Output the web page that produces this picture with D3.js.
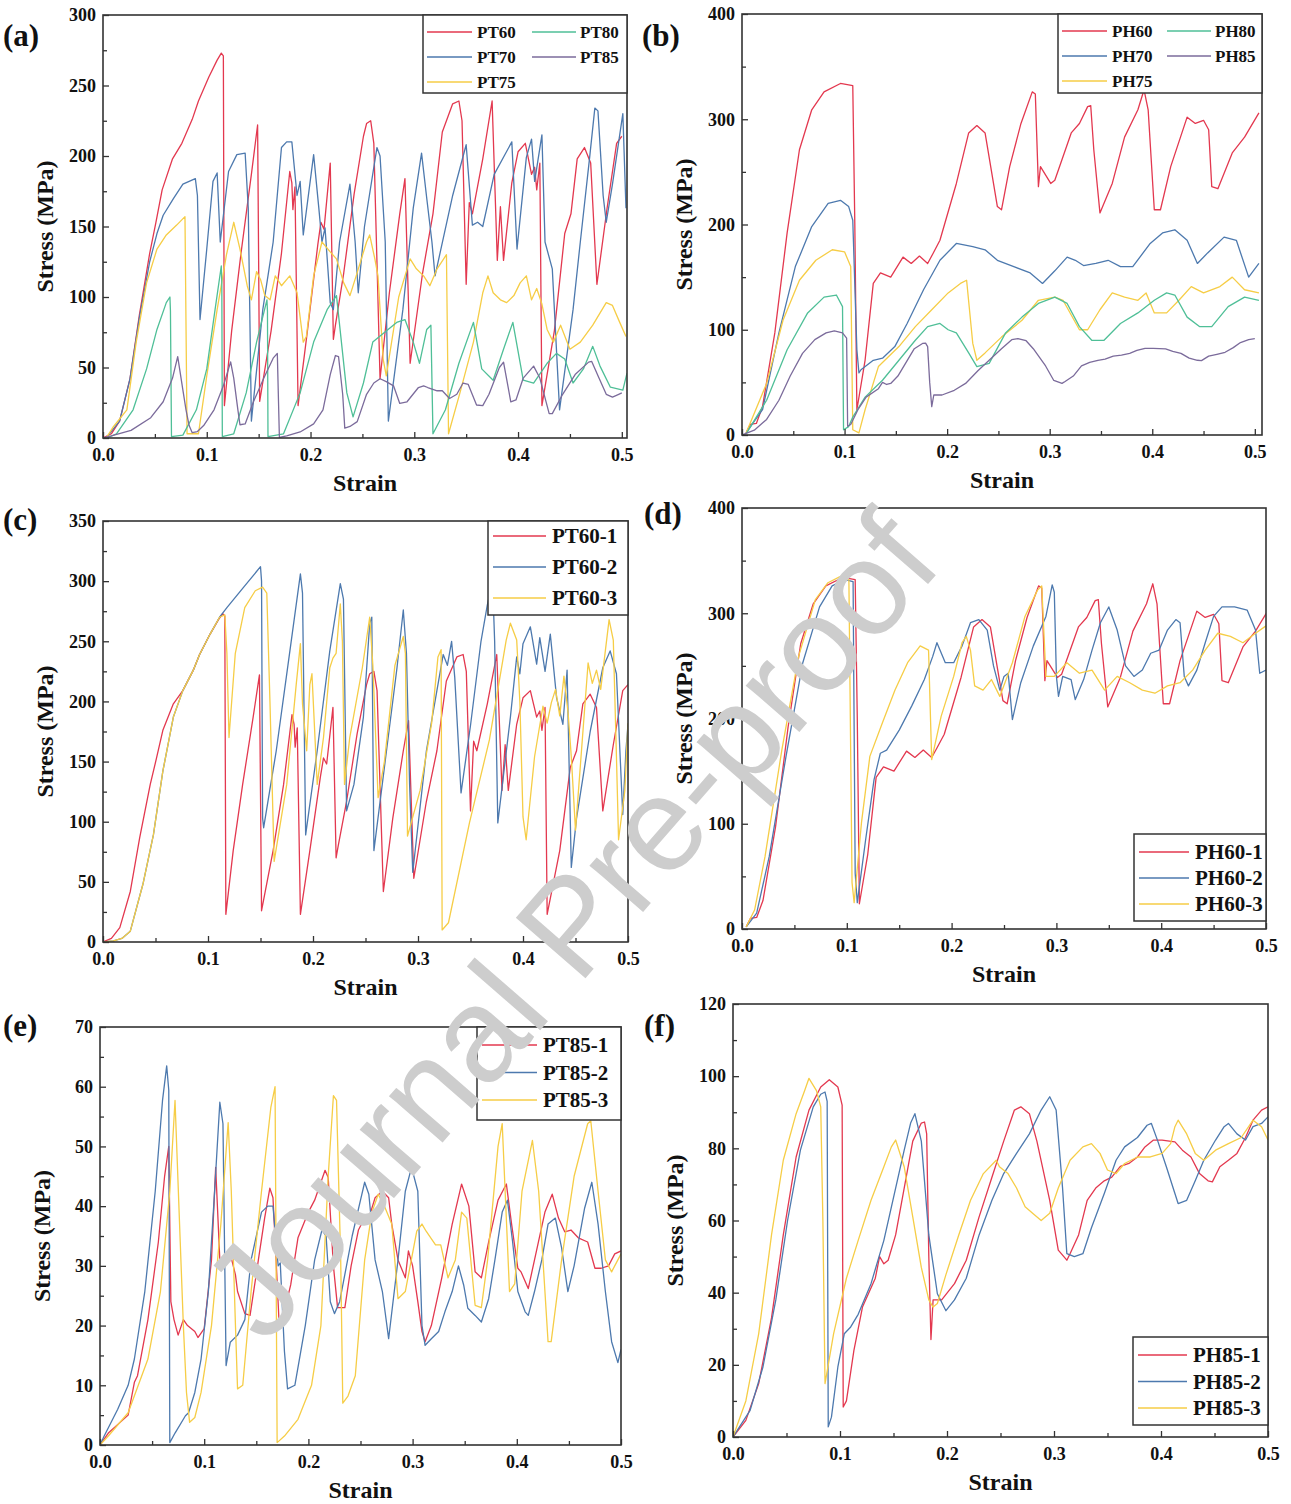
<!DOCTYPE html>
<html>
<head>
<meta charset="utf-8">
<script src="https://cdn.jsdelivr.net/npm/d3@7"></script>
<style>
  body { margin: 0; background: #fff; }
  svg text { font-family: "Liberation Serif", "Times New Roman", serif; font-weight: bold; fill: #111; }
  svg text.wm { font-family: "Liberation Sans", Arial, sans-serif; font-weight: normal; fill: #cdcdcd; }
</style>
</head>
<body>
<svg id="fig" width="1291" height="1504"></svg>
<script>
// ---- data: [strain, stress (MPa)] ----

// (a) and (c): PT60 == PT60-1
const PT60 = [[0,0],[0.008,3],[0.016,12],[0.026,42],[0.035,87],[0.045,131],[0.051,153],[0.057,176],[0.067,198],[0.076,209],[0.086,226],[0.092,239],[0.102,256],[0.110,268],[0.114,273],[0.116,271],[0.117,23],[0.124,76],[0.133,131],[0.143,187],[0.149,222],[0.151,26],[0.162,76],[0.172,131],[0.180,189],[0.182,181],[0.183,162],[0.185,178],[0.188,23],[0.197,76],[0.207,137],[0.210,153],[0.213,148],[0.219,195],[0.222,70],[0.224,80],[0.232,117],[0.242,173],[0.251,214],[0.254,223],[0.258,225],[0.261,209],[0.267,42],[0.276,103],[0.286,159],[0.291,184],[0.294,106],[0.296,53],[0.308,117],[0.318,159],[0.327,217],[0.337,237],[0.343,239],[0.346,225],[0.350,109],[0.353,167],[0.356,159],[0.366,198],[0.375,239],[0.380,126],[0.383,164],[0.386,126],[0.394,181],[0.400,203],[0.407,209],[0.410,198],[0.413,187],[0.416,192],[0.418,176],[0.421,195],[0.423,23],[0.435,76],[0.445,145],[0.451,159],[0.457,198],[0.464,206],[0.470,195],[0.476,109],[0.486,164],[0.495,209],[0.5,214]];
const PT70 = [[0.004,1],[0.016,12],[0.026,42],[0.035,85],[0.045,125],[0.052,145],[0.058,158],[0.068,170],[0.077,180],[0.089,184],[0.091,172],[0.0935,84],[0.100,134],[0.106,182],[0.110,188],[0.113,139],[0.121,189],[0.129,201],[0.137,202],[0.140,163],[0.143,12],[0.154,91],[0.164,139],[0.172,206],[0.177,210],[0.182,210],[0.187,172],[0.190,182],[0.193,144],[0.203,201],[0.208,163],[0.211,139],[0.214,149],[0.219,96],[0.222,91],[0.228,139],[0.238,180],[0.243,139],[0.246,103],[0.252,150],[0.264,206],[0.267,200],[0.272,139],[0.275,12],[0.289,91],[0.299,163],[0.307,202],[0.312,170],[0.317,139],[0.320,115],[0.337,172],[0.350,208],[0.356,151],[0.361,153],[0.366,150],[0.377,187],[0.394,210],[0.399,134],[0.408,199],[0.413,212],[0.416,182],[0.423,215],[0.426,139],[0.433,120],[0.440,20],[0.453,91],[0.460,139],[0.469,199],[0.474,234],[0.477,232],[0.482,172],[0.485,153],[0.491,180],[0.501,230],[0.504,163]];
const PT75 = [[0.004,1],[0.010,8],[0.023,20],[0.032,68],[0.042,110],[0.052,134],[0.061,144],[0.071,151],[0.079,157],[0.081,3],[0.092,3],[0.100,44],[0.110,91],[0.119,130],[0.126,153],[0.132,134],[0.139,108],[0.143,98],[0.148,118],[0.152,112],[0.156,101],[0.161,98],[0.166,115],[0.172,108],[0.180,115],[0.187,103],[0.193,68],[0.196,72],[0.203,115],[0.211,139],[0.219,132],[0.225,127],[0.232,110],[0.238,101],[0.244,115],[0.254,139],[0.257,144],[0.262,127],[0.265,115],[0.270,56],[0.273,44],[0.285,100],[0.296,127],[0.302,120],[0.309,115],[0.315,108],[0.322,120],[0.331,130],[0.333,3],[0.344,32],[0.357,68],[0.366,103],[0.371,115],[0.376,103],[0.383,98],[0.389,96],[0.396,101],[0.402,110],[0.408,115],[0.413,98],[0.418,106],[0.423,95],[0.428,77],[0.434,68],[0.441,80],[0.450,63],[0.460,68],[0.472,80],[0.485,96],[0.491,94],[0.498,82],[0.504,72]];
const PT80 = [[0.004,0],[0.013,3],[0.029,20],[0.042,49],[0.052,77],[0.061,96],[0.0645,100],[0.065,90],[0.066,1],[0.077,2],[0.090,20],[0.100,49],[0.108,91],[0.114,122],[0.1145,110],[0.115,1],[0.126,3],[0.138,32],[0.148,68],[0.158,98],[0.1585,90],[0.159,1],[0.174,3],[0.190,32],[0.203,68],[0.216,91],[0.225,101],[0.235,32],[0.241,15],[0.251,39],[0.260,68],[0.283,82],[0.291,84],[0.299,68],[0.305,53],[0.312,77],[0.316,80],[0.318,3],[0.330,20],[0.343,53],[0.357,82],[0.365,49],[0.376,41],[0.386,63],[0.395,82],[0.405,41],[0.415,39],[0.428,53],[0.437,60],[0.445,56],[0.453,39],[0.463,49],[0.472,65],[0.479,51],[0.489,36],[0.501,34],[0.505,46]];
// (a) and (e): PT85 == PT85-3
const PT85 = [[0,0],[0.008,1.5],[0.027,5.4],[0.046,14.4],[0.058,25.7],[0.067,42.5],[0.072,57.7],[0.077,34],[0.080,20],[0.083,8.8],[0.086,3.8],[0.091,4.6],[0.097,8.8],[0.107,20],[0.116,37],[0.123,54],[0.126,42.5],[0.130,20],[0.132,9.4],[0.137,10],[0.145,25.7],[0.155,42.5],[0.164,56.6],[0.168,60],[0.170,0.4],[0.177,1.5],[0.190,4.3],[0.203,10],[0.212,20],[0.219,45],[0.224,58.5],[0.227,57.7],[0.231,31],[0.233,7],[0.238,8.2],[0.245,11.6],[0.254,31],[0.261,39],[0.267,42],[0.273,40],[0.280,37],[0.286,24.5],[0.293,25.7],[0.304,35.8],[0.309,37],[0.313,35.8],[0.322,33.5],[0.327,33.5],[0.334,28],[0.341,31],[0.347,39],[0.352,38],[0.360,23.4],[0.366,23],[0.372,31],[0.382,50],[0.386,53.8],[0.393,25.7],[0.398,27],[0.405,42.5],[0.415,51],[0.421,42.5],[0.430,17.3],[0.433,17.3],[0.443,31],[0.455,45],[0.468,53.8],[0.471,54.3],[0.478,42.5],[0.485,31],[0.491,29],[0.497,31],[0.5,32]];

// (b) and (d): PH60 == PH60-1
const PH60 = [[0.004,2],[0.008,10],[0.014,11],[0.020,27],[0.032,97],[0.044,192],[0.056,271],[0.068,309],[0.080,326],[0.096,334],[0.108,332],[0.110,200],[0.112,24],[0.120,71],[0.128,144],[0.135,154],[0.145,150],[0.157,169],[0.165,163],[0.173,170],[0.181,163],[0.186,172],[0.193,185],[0.209,239],[0.221,287],[0.229,294],[0.237,287],[0.249,217],[0.253,214],[0.261,255],[0.272,296],[0.283,326],[0.286,324],[0.289,236],[0.291,255],[0.301,239],[0.305,242],[0.321,287],[0.329,296],[0.337,312],[0.340,313],[0.343,271],[0.349,211],[0.361,239],[0.373,283],[0.386,309],[0.392,328],[0.396,309],[0.402,214],[0.408,214],[0.418,255],[0.434,302],[0.442,296],[0.450,299],[0.455,290],[0.458,236],[0.464,234],[0.478,268],[0.490,283],[0.504,306]];
const PH70 = [[0.004,2],[0.020,24],[0.036,97],[0.052,160],[0.068,198],[0.084,220],[0.096,223],[0.104,217],[0.108,204],[0.112,81],[0.114,59],[0.116,62],[0.128,71],[0.137,73],[0.149,84],[0.161,106],[0.177,138],[0.193,166],[0.209,182],[0.225,179],[0.237,176],[0.249,166],[0.265,160],[0.281,154],[0.293,144],[0.305,156],[0.317,169],[0.325,166],[0.333,161],[0.345,163],[0.357,166],[0.369,160],[0.381,160],[0.398,182],[0.410,192],[0.422,195],[0.434,185],[0.444,163],[0.454,173],[0.470,188],[0.482,185],[0.494,150],[0.504,163]];
const PH75 = [[0.004,2],[0.024,49],[0.040,109],[0.056,147],[0.072,166],[0.088,176],[0.100,174],[0.106,160],[0.108,5],[0.114,2],[0.120,24],[0.133,65],[0.153,84],[0.169,103],[0.185,119],[0.201,135],[0.213,144],[0.219,147],[0.225,87],[0.229,71],[0.237,78],[0.253,93],[0.273,109],[0.289,128],[0.305,131],[0.313,128],[0.329,100],[0.337,100],[0.349,119],[0.361,135],[0.373,131],[0.386,128],[0.394,135],[0.402,116],[0.414,116],[0.426,128],[0.438,141],[0.450,135],[0.466,141],[0.478,150],[0.490,138],[0.504,135]];
const PH80 = [[0.004,1],[0.024,33],[0.044,81],[0.064,116],[0.080,131],[0.092,133],[0.098,122],[0.099,5],[0.104,8],[0.108,17],[0.120,36],[0.137,52],[0.153,71],[0.169,90],[0.181,103],[0.193,106],[0.201,100],[0.209,97],[0.221,78],[0.229,65],[0.241,68],[0.257,97],[0.273,112],[0.289,125],[0.305,131],[0.317,125],[0.329,103],[0.341,90],[0.353,90],[0.369,106],[0.386,116],[0.402,128],[0.414,135],[0.422,133],[0.434,112],[0.446,103],[0.458,103],[0.474,122],[0.490,131],[0.504,128]];
// (b) and (f): PH85 == PH85-1
const PH85 = [[0,0],[0.012,4.6],[0.024,14.8],[0.036,33],[0.047,56],[0.059,77.6],[0.071,90.6],[0.082,97],[0.090,99],[0.098,97],[0.102,92],[0.103,8.3],[0.106,10],[0.113,24],[0.121,36],[0.133,44],[0.137,50],[0.141,48],[0.145,49],[0.152,56],[0.160,69],[0.168,82],[0.176,87],[0.179,87.3],[0.181,84],[0.183,50],[0.185,27],[0.187,38],[0.195,38],[0.207,42.5],[0.218,49],[0.230,61],[0.242,72],[0.253,82],[0.263,90.6],[0.269,91.5],[0.277,89.6],[0.284,82],[0.296,65.6],[0.304,51.8],[0.312,49],[0.315,50.8],[0.323,56],[0.331,65.6],[0.339,69],[0.347,71],[0.354,72],[0.362,75],[0.370,75.8],[0.378,77.6],[0.385,80.4],[0.393,82.3],[0.401,82.3],[0.413,81.8],[0.420,79.5],[0.428,77.6],[0.436,73],[0.444,71],[0.448,70.7],[0.455,74.9],[0.463,76.7],[0.471,78.6],[0.479,83],[0.486,87.8],[0.494,90.6],[0.5,91.5]];

const PT60_2 = [[0,0],[0.010,1],[0.018,3],[0.026,9],[0.038,48],[0.048,89],[0.057,142],[0.067,187],[0.076,209],[0.086,226],[0.092,239],[0.102,256],[0.111,270],[0.118,278],[0.134,295],[0.150,312],[0.151,300],[0.152,103],[0.153,95],[0.165,159],[0.178,242],[0.188,306],[0.190,290],[0.193,89],[0.204,159],[0.216,242],[0.226,298],[0.229,285],[0.232,109],[0.239,131],[0.248,187],[0.254,265],[0.256,270],[0.258,76],[0.270,159],[0.280,228],[0.286,276],[0.289,240],[0.292,131],[0.295,58],[0.308,159],[0.318,209],[0.324,239],[0.328,230],[0.332,250],[0.335,220],[0.341,124],[0.350,180],[0.360,250],[0.366,280],[0.371,300],[0.373,250],[0.376,99],[0.388,187],[0.394,237],[0.397,223],[0.400,248],[0.407,262],[0.413,231],[0.416,253],[0.421,225],[0.426,256],[0.432,203],[0.438,181],[0.442,226],[0.446,62],[0.451,103],[0.464,175],[0.476,228],[0.483,242],[0.489,223],[0.495,106],[0.498,159],[0.5,181]];
const PT60_3 = [[0,0],[0.010,1],[0.018,3],[0.026,9],[0.038,48],[0.048,89],[0.057,142],[0.067,187],[0.076,209],[0.086,226],[0.092,239],[0.102,256],[0.111,270],[0.116,272],[0.118,240],[0.120,170],[0.126,240],[0.135,278],[0.145,292],[0.152,295],[0.156,290],[0.159,200],[0.163,67],[0.175,131],[0.184,214],[0.188,248],[0.190,198],[0.194,159],[0.197,214],[0.199,223],[0.204,131],[0.210,170],[0.216,228],[0.219,236],[0.222,240],[0.226,281],[0.228,250],[0.230,131],[0.235,170],[0.247,228],[0.254,270],[0.257,230],[0.262,120],[0.268,150],[0.278,230],[0.286,254],[0.288,240],[0.290,88],[0.302,126],[0.313,182],[0.319,237],[0.322,243],[0.323,10],[0.329,16],[0.349,99],[0.368,168],[0.384,251],[0.388,265],[0.394,251],[0.397,200],[0.400,104],[0.403,85],[0.411,154],[0.419,196],[0.423,182],[0.427,199],[0.431,210],[0.435,188],[0.439,221],[0.443,190],[0.446,154],[0.450,93],[0.462,232],[0.466,215],[0.470,226],[0.474,210],[0.482,268],[0.486,251],[0.489,154],[0.491,85],[0.497,126],[0.5,182]];

const PH60_2 = [[0.004,2],[0.014,15],[0.026,69],[0.042,164],[0.058,253],[0.074,306],[0.086,326],[0.098,332],[0.106,330],[0.108,53],[0.110,25],[0.118,85],[0.126,142],[0.132,167],[0.138,170],[0.150,189],[0.162,212],[0.174,237],[0.182,259],[0.186,272],[0.194,253],[0.202,253],[0.210,269],[0.218,291],[0.226,294],[0.234,284],[0.240,250],[0.246,227],[0.250,240],[0.254,243],[0.258,199],[0.266,234],[0.278,269],[0.290,297],[0.296,327],[0.298,320],[0.300,240],[0.302,221],[0.306,240],[0.314,237],[0.318,218],[0.326,237],[0.334,265],[0.342,291],[0.350,306],[0.358,284],[0.366,250],[0.374,240],[0.382,246],[0.390,262],[0.398,265],[0.406,284],[0.414,294],[0.418,291],[0.422,240],[0.426,231],[0.434,246],[0.442,272],[0.450,297],[0.458,306],[0.470,306],[0.482,303],[0.490,284],[0.494,243],[0.5,246]];
const PH60_3 = [[0.004,2],[0.012,18],[0.022,69],[0.038,170],[0.054,259],[0.070,313],[0.082,329],[0.094,335],[0.102,332],[0.105,44],[0.107,25],[0.114,101],[0.122,164],[0.134,196],[0.146,227],[0.158,253],[0.170,269],[0.178,265],[0.181,161],[0.190,202],[0.202,240],[0.210,272],[0.214,278],[0.218,265],[0.222,231],[0.230,227],[0.238,237],[0.246,221],[0.258,253],[0.270,297],[0.282,322],[0.286,326],[0.290,240],[0.298,240],[0.310,253],[0.322,243],[0.334,246],[0.346,227],[0.358,240],[0.370,234],[0.382,227],[0.394,224],[0.406,231],[0.418,234],[0.430,246],[0.442,265],[0.454,281],[0.466,278],[0.478,272],[0.490,281],[0.5,288]];

const PT85_1 = [[0,0],[0.008,2],[0.027,5],[0.033,10.5],[0.036,11.6],[0.046,21],[0.056,34],[0.062,45],[0.066,50],[0.068,24],[0.071,21],[0.075,18.4],[0.080,21],[0.084,20],[0.091,19],[0.094,18],[0.100,19.5],[0.107,31],[0.111,46.5],[0.115,31],[0.118,30],[0.125,32],[0.130,28.5],[0.132,25.7],[0.139,22],[0.144,21.7],[0.152,31],[0.158,38],[0.163,43],[0.166,41.4],[0.169,31],[0.172,20],[0.175,21],[0.183,26.8],[0.190,34.7],[0.200,39],[0.206,41],[0.216,46],[0.219,44.8],[0.224,30],[0.228,23],[0.235,23],[0.241,30],[0.248,36],[0.251,37],[0.258,38],[0.264,41.4],[0.271,42.5],[0.277,41.4],[0.280,37],[0.286,31],[0.293,28],[0.296,32.5],[0.300,30],[0.305,24],[0.309,19],[0.312,17.3],[0.318,20],[0.328,28],[0.338,37],[0.347,43.7],[0.354,40],[0.360,29],[0.366,28],[0.373,34],[0.382,41],[0.390,43.7],[0.395,37],[0.401,29.6],[0.404,29],[0.411,26.2],[0.417,31],[0.427,39],[0.434,42],[0.440,38],[0.446,35.7],[0.452,36],[0.459,34.7],[0.468,34],[0.475,29.6],[0.481,29.6],[0.488,30],[0.494,32],[0.5,32.5]];
const PT85_2 = [[0,0],[0.004,1.5],[0.017,6],[0.027,10],[0.033,14.4],[0.043,25.7],[0.053,42.5],[0.060,57.7],[0.064,63.5],[0.066,59.4],[0.067,0.4],[0.072,2],[0.082,4.9],[0.085,5.4],[0.091,8.8],[0.097,14.4],[0.104,25.7],[0.110,42.5],[0.115,57.4],[0.118,53.8],[0.121,13.3],[0.125,17.2],[0.132,18.4],[0.139,21],[0.145,31],[0.155,39],[0.161,40],[0.166,40],[0.171,30],[0.173,30.5],[0.177,15.7],[0.180,9.4],[0.187,10],[0.197,20],[0.206,31],[0.213,36],[0.217,35],[0.221,24],[0.225,22],[0.230,24],[0.242,35],[0.250,41],[0.254,44],[0.258,42],[0.264,31],[0.271,25.7],[0.277,17.8],[0.286,31],[0.293,42.5],[0.299,46.5],[0.305,42.5],[0.309,20],[0.312,16.7],[0.318,17.8],[0.325,19],[0.331,22.3],[0.338,25.7],[0.344,30],[0.349,26.8],[0.353,22.9],[0.360,21.7],[0.366,20.6],[0.373,24.5],[0.379,31],[0.386,39],[0.391,41],[0.396,34],[0.401,25.7],[0.408,22.3],[0.411,21.7],[0.417,25.7],[0.424,31],[0.430,37],[0.437,38],[0.443,33],[0.449,25.7],[0.455,30],[0.465,39.6],[0.472,44],[0.478,37],[0.485,25.7],[0.491,17.3],[0.497,13.8],[0.5,16]];

const PH85_2 = [[0,0],[0.016,7.4],[0.028,19.4],[0.040,38],[0.051,60],[0.063,79.5],[0.075,91.5],[0.082,95],[0.086,95.6],[0.088,93],[0.089,2.8],[0.092,5.5],[0.098,19.4],[0.104,28.6],[0.110,30.5],[0.117,34],[0.129,42.5],[0.141,54.5],[0.152,69],[0.160,79.5],[0.166,87],[0.170,89.6],[0.176,82],[0.183,56],[0.191,39.7],[0.199,35],[0.207,38],[0.218,44],[0.230,56],[0.242,65.6],[0.253,73],[0.265,78.6],[0.277,84],[0.288,90.6],[0.296,94.3],[0.302,90.6],[0.308,69],[0.312,50.8],[0.319,50],[0.327,50.8],[0.335,58],[0.347,67.5],[0.358,76.7],[0.366,80.4],[0.378,83],[0.387,86.4],[0.391,86.9],[0.397,82],[0.405,74.9],[0.413,67.5],[0.416,64.7],[0.424,65.6],[0.432,71],[0.440,76.7],[0.451,82.3],[0.459,86],[0.463,86.9],[0.471,84],[0.479,82.3],[0.486,86],[0.494,86.9],[0.5,88.7]];
const PH85_3 = [[0,0],[0.012,10],[0.024,28.6],[0.036,56],[0.047,76.7],[0.059,89.6],[0.067,96],[0.071,99.4],[0.078,96],[0.082,91.5],[0.084,60],[0.086,14.8],[0.094,28.6],[0.106,44],[0.117,54.5],[0.129,65.6],[0.141,74.9],[0.148,80.4],[0.152,82.3],[0.160,74.9],[0.168,61],[0.176,47],[0.183,38],[0.187,36],[0.191,37],[0.199,45],[0.211,56],[0.222,65.6],[0.234,73],[0.246,76.7],[0.249,74.9],[0.257,73],[0.265,69],[0.273,63.8],[0.280,62],[0.288,60],[0.296,62],[0.304,69],[0.315,76.7],[0.327,80.4],[0.335,81.3],[0.343,78.6],[0.350,74],[0.358,73],[0.366,75.8],[0.378,77.6],[0.390,77.6],[0.401,78.6],[0.409,81.3],[0.413,86],[0.416,87.8],[0.424,84],[0.432,78.6],[0.440,76.7],[0.451,79.5],[0.463,81.3],[0.475,83],[0.486,87.8],[0.494,86],[0.5,82.3]];

const xTicks = [0, 0.1, 0.2, 0.3, 0.4, 0.5];

// ---- styling / layout ----
const colors = { red: "#e3384f", blue: "#4d79ae", yellow: "#f6cd46", green: "#4fbf97", purple: "#7b6b9b" };

const panels = [
	{ id: "a", tag: "(a)", tagPos: [3, 46], box: [103, 15, 627, 438], xMax: 0.505, yMax: 300, yStep: 50,
		series: [["PT60", PT60, "red"], ["PT70", PT70, "blue"], ["PT75", PT75, "yellow"], ["PT80", PT80, "green"], ["PT85", PT85, "purple"]],
		legend: { kind: 5, x: 423, y: 15, w: 204, h: 78 } },
	{ id: "b", tag: "(b)", tagPos: [642, 46], box: [742, 14, 1262, 435], xMax: 0.507, yMax: 400, yStep: 100,
		series: [["PH60", PH60, "red"], ["PH70", PH70, "blue"], ["PH75", PH75, "yellow"], ["PH80", PH80, "green"], ["PH85", PH85, "purple"]],
		legend: { kind: 5, x: 1058, y: 14, w: 204, h: 79 } },
	{ id: "c", tag: "(c)", tagPos: [3, 530], box: [103, 521, 628, 942], xMax: 0.5, yMax: 350, yStep: 50,
		series: [["PT60-1", PT60, "red"], ["PT60-2", PT60_2, "blue"], ["PT60-3", PT60_3, "yellow"]],
		legend: { kind: 3, x: 488, y: 521, w: 140, h: 94, row0: 15, rowH: 31, textDx: 64 } },
	{ id: "d", tag: "(d)", tagPos: [644, 524], box: [742, 508, 1266, 929], xMax: 0.5, yMax: 400, yStep: 100,
		series: [["PH60-1", PH60, "red"], ["PH60-2", PH60_2, "blue"], ["PH60-3", PH60_3, "yellow"]],
		legend: { kind: 3, x: 1134, y: 834, w: 132, h: 87, row0: 18, rowH: 26, textDx: 61 } },
	{ id: "e", tag: "(e)", tagPos: [3, 1036], box: [100, 1027, 621, 1445], xMax: 0.5, yMax: 70, yStep: 10,
		series: [["PT85-1", PT85_1, "red"], ["PT85-2", PT85_2, "blue"], ["PT85-3", PT85, "yellow"]],
		legend: { kind: 3, x: 477, y: 1027, w: 144, h: 93, row0: 18, rowH: 27.5, textDx: 66 } },
	{ id: "f", tag: "(f)", tagPos: [644, 1036], box: [733, 1004, 1268, 1437], xMax: 0.5, yMax: 120, yStep: 20,
		series: [["PH85-1", PH85, "red"], ["PH85-2", PH85_2, "blue"], ["PH85-3", PH85_3, "yellow"]],
		legend: { kind: 3, x: 1133, y: 1337, w: 135, h: 88, row0: 18, rowH: 26.5, textDx: 60 } }
];

const svg = d3.select("#fig");
svg.append("rect").attr("width", 1291).attr("height", 1504).attr("fill", "#fff");

function drawPanel(p){
	const [x0, y0, x1, y1] = p.box;
	const x = d3.scaleLinear().domain([0, p.xMax]).range([x0, x1]);
	const y = d3.scaleLinear().domain([0, p.yMax]).range([y1, y0]);
	const g = svg.append("g");

	svg.append("clipPath").attr("id", "clip-" + p.id)
		.append("rect").attr("x", x0).attr("y", y0).attr("width", x1 - x0).attr("height", y1 - y0);

	const line = d3.line().x(d => x(d[0])).y(d => y(d[1]));
	g.append("g").attr("clip-path", "url(#clip-" + p.id + ")")
		.selectAll("path").data(p.series).join("path")
		.attr("d", s => line(s[1]))
		.attr("fill", "none")
		.attr("stroke", s => colors[s[2]])
		.attr("stroke-width", 1.3)
		.attr("stroke-linejoin", "round");

	// minor ticks (inward, no labels)
	const xMinor = d3.range(0.05, 0.5, 0.1);
	const yMinor = d3.range(p.yStep / 2, p.yMax, p.yStep);
	g.append("g").attr("transform", "translate(0," + y1 + ")")
		.call(d3.axisBottom(x).tickValues(xMinor).tickSize(-4).tickFormat(""));
	g.append("g").attr("transform", "translate(" + x0 + ",0)")
		.call(d3.axisLeft(y).tickValues(yMinor).tickSize(-4).tickFormat(""));

	// major ticks
	g.append("g").attr("transform", "translate(0," + y1 + ")")
		.call(d3.axisBottom(x).tickValues(xTicks).tickSize(-6).tickPadding(10).tickFormat(d3.format(".1f")));
	g.append("g").attr("transform", "translate(" + x0 + ",0)")
		.call(d3.axisLeft(y).tickValues(d3.range(0, p.yMax + 1, p.yStep)).tickSize(-6).tickPadding(7));

	g.selectAll(".domain").remove();
	g.selectAll(".tick line").attr("stroke", "#333").attr("stroke-width", 1.3);
	g.selectAll(".tick text").attr("font-size", 18).attr("fill", "#111")
		.attr("font-family", "Liberation Serif, Times New Roman, serif").attr("font-weight", "bold");

	g.append("rect").attr("x", x0).attr("y", y0).attr("width", x1 - x0).attr("height", y1 - y0)
		.attr("fill", "none").attr("stroke", "#333").attr("stroke-width", 1.6);

	g.append("text").attr("x", (x0 + x1) / 2).attr("y", y1 + 53)
		.attr("text-anchor", "middle").attr("font-size", 24).text("Strain");
	g.append("text").attr("transform", "translate(" + (x0 - 50) + "," + ((y0 + y1) / 2) + ") rotate(-90)")
		.attr("text-anchor", "middle").attr("font-size", 24).text("Stress (MPa)");

	g.append("text").attr("x", p.tagPos[0]).attr("y", p.tagPos[1]).attr("font-size", 31).text(p.tag);

	drawLegend(g, p);
}

function drawLegend(g, p){
	const L = p.legend;
	const lg = g.append("g");
	lg.append("rect").attr("x", L.x).attr("y", L.y).attr("width", L.w).attr("height", L.h)
		.attr("fill", "#fff").attr("stroke", "#333").attr("stroke-width", 1.5);
	let items;
	if(L.kind == 5){
		// two columns: 60/70/75 then 80/85
		const cols = [[0, 1, 2], [3, 4]];
		items = [];
		cols.forEach((col, ci) => col.forEach((si, ri) => {
			items.push({ s: p.series[si], lx0: L.x + 4 + ci * 105, lx1: L.x + 49 + ci * 104,
				tx: L.x + 54 + ci * 103, ty: L.y + 17 + ri * 25, fs: 17 });
		}));
	} else {
		items = p.series.map((s, i) => ({ s: s, lx0: L.x + 5, lx1: L.x + L.textDx - 6,
			tx: L.x + L.textDx, ty: L.y + L.row0 + i * L.rowH, fs: 21 }));
	}
	items.forEach(it => {
		lg.append("line").attr("x1", it.lx0).attr("x2", it.lx1).attr("y1", it.ty).attr("y2", it.ty)
			.attr("stroke", colors[it.s[2]]).attr("stroke-width", 1.6);
		lg.append("text").attr("x", it.tx).attr("y", it.ty).attr("dy", "0.35em")
			.attr("font-size", it.fs).text(it.s[0]);
	});
}

panels.forEach(drawPanel);

// watermark
svg.append("text").attr("class", "wm")
	.attr("transform", "translate(570,925) rotate(-49)")
	.attr("text-anchor", "middle").attr("dominant-baseline", "central")
	.attr("font-size", 134).text("Journal Pre-proof");
</script>
</body>
</html>
